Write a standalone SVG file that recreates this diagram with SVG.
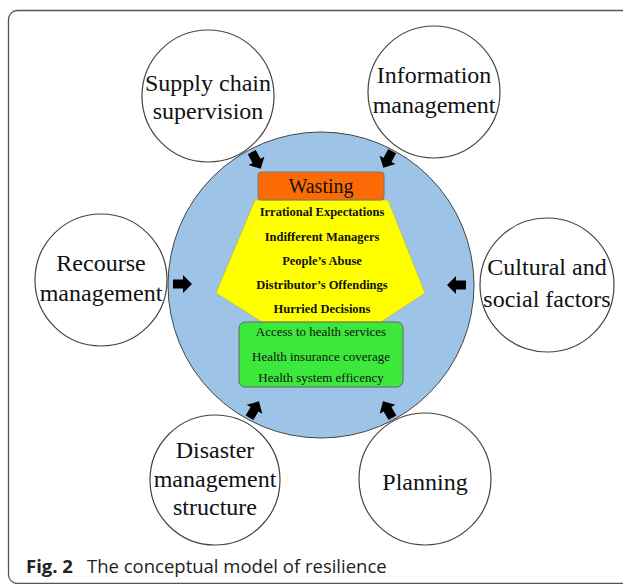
<svg xmlns="http://www.w3.org/2000/svg" width="623" height="584" viewBox="0 0 623 584">
<defs>
<style>
.frame{fill:none;stroke:#555;stroke-width:1.3}
.sc{fill:#fff;stroke:#444;stroke-width:1.2}
.st{font-family:"Liberation Serif","Times New Roman",serif;font-size:24px;fill:#111;text-anchor:middle}
.yt{font-family:"Liberation Serif","Times New Roman",serif;font-size:12.5px;font-weight:bold;fill:#111;text-anchor:middle}
.gt{font-family:"Liberation Serif","Times New Roman",serif;font-size:13px;fill:#111;text-anchor:middle}
.arr{fill:#000}
</style>
<path id="ar" d="M-9,-4.5 L1,-4.5 L1,-9 L10,0 L1,9 L1,4.5 L-9,4.5 Z"/>
</defs>
<rect class="frame" x="8.5" y="10.5" width="640" height="573" rx="9"/>
<g id="supply"><circle class="sc" cx="208" cy="96" r="66"/><text class="st" x="208" y="91">Supply chain</text><text class="st" x="208" y="119">supervision</text></g>
<g id="information"><circle class="sc" cx="434" cy="92" r="66"/><text class="st" x="434" y="83">Information</text><text class="st" x="434" y="113">management</text></g>
<g id="recourse"><circle class="sc" cx="101" cy="280" r="66"/><text class="st" x="101" y="271">Recourse</text><text class="st" x="101" y="301">management</text></g>
<g id="cultural"><circle class="sc" cx="547" cy="285" r="67"/><text class="st" x="547" y="275">Cultural and</text><text class="st" x="547" y="307">social factors</text></g>
<g id="disaster"><circle class="sc" cx="215" cy="480" r="65"/><text class="st" x="215" y="458">Disaster</text><text class="st" x="215" y="487">management</text><text class="st" x="215" y="515">structure</text></g>
<g id="planning"><circle class="sc" cx="425" cy="479" r="66"/><text class="st" x="425" y="490">Planning</text></g>
<g id="core">
<circle cx="321" cy="285" r="153" fill="#9dc3e6" stroke="#444" stroke-width="1"/>
</g>
<g id="factors">
<polygon points="255,200 388,200 425,293 381,322 262,322 216,293" fill="#ffff00" stroke="#b5b53a" stroke-width="0.6"/>
<text class="yt" x="322" y="216">Irrational Expectations</text>
<text class="yt" x="322" y="241">Indifferent Managers</text>
<text class="yt" x="322" y="265">People’s Abuse</text>
<text class="yt" x="322" y="289">Distributor’s Offendings</text>
<text class="yt" x="322" y="313">Hurried Decisions</text>
</g>
<g id="wasting"><rect x="258" y="172" width="126" height="28" rx="3" fill="#fc6a05" stroke="#777" stroke-width="1"/><text x="321" y="193" font-family="Liberation Serif,Times New Roman,serif" font-size="20" fill="#111" text-anchor="middle">Wasting</text></g>
<g id="health"><rect x="239" y="322" width="164" height="65" rx="6" fill="#3be83b" stroke="#666" stroke-width="1"/>
<text class="gt" x="321" y="336">Access to health services</text>
<text class="gt" x="321" y="361">Health insurance coverage</text>
<text class="gt" x="321" y="382">Health system efficency</text></g>
<g id="connectors">
<use href="#ar" class="arr" transform="translate(256,160) rotate(62)"/>
<use href="#ar" class="arr" transform="translate(388,159) rotate(118)"/>
<use href="#ar" class="arr" transform="translate(182,284) rotate(0)"/>
<use href="#ar" class="arr" transform="translate(457,285) rotate(180)"/>
<use href="#ar" class="arr" transform="translate(254,410) rotate(-60)"/>
<use href="#ar" class="arr" transform="translate(388,410) rotate(-120)"/>
</g>
<g id="caption"><text x="26" y="573" font-family="Open Sans,Liberation Sans,sans-serif" font-size="18.5" fill="#222"><tspan font-weight="bold">Fig. 2</tspan><tspan x="87">The conceptual model of resilience</tspan></text></g>
</svg>
